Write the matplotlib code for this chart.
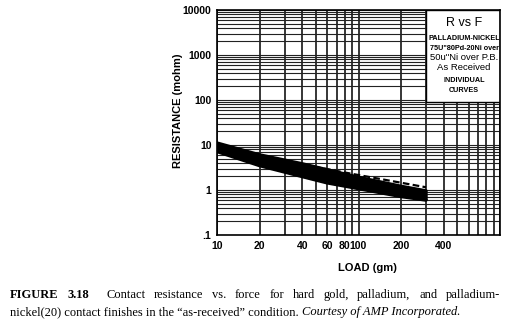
import matplotlib
matplotlib.use("Agg")
import matplotlib.pyplot as plt
from matplotlib.patches import Rectangle
from matplotlib.ticker import FixedLocator, NullFormatter

# Load points (gm) at which each curve is read
loads = [10, 20, 40, 60, 100, 200, 300]

# Individual resistance curves (mohm)
curve_1 = [11.0, 6.0, 3.8, 2.8, 1.9, 1.20, 0.95]
curve_2 = [10.3, 5.4, 3.4, 2.5, 1.70, 1.07, 0.86]
curve_3 = [9.5, 4.9, 3.0, 2.2, 1.52, 0.96, 0.77]
curve_4 = [8.7, 4.3, 2.6, 1.9, 1.34, 0.86, 0.70]
curve_5 = [7.8, 3.8, 2.3, 1.65, 1.20, 0.78, 0.63]
curve_6 = [7.2, 3.5, 2.0, 1.45, 1.08, 0.72, 0.60]
curve_dashed = [10.5, 5.7, 3.7, 2.9, 2.15, 1.45, 1.15]

x_tick_values = [10, 20, 40, 60, 80, 100, 200, 400]
x_tick_labels = ["10", "20", "40", "60", "80", "100", "200", "400"]
y_tick_values = [0.1, 1, 10, 100, 1000, 10000]
y_tick_labels = [".1", "1", "10", "100", "1000", "10000"]

legend_lines = ["PALLADIUM-NICKEL", "75U\"80Pd-20Ni over", "50u\"Ni over P.B.",
                "As Received"]

SANS = ["Liberation Sans", "DejaVu Sans"]
NARROW = ["Liberation Sans Narrow", "Liberation Sans", "DejaVu Sans"]
SERIF = ["Liberation Serif", "DejaVu Serif"]

W, H = 508, 328
fig = plt.figure(figsize=(W / 100, H / 100), dpi=100)
fig.patch.set_facecolor("white")
ax = fig.add_axes([217 / W, 1 - 235 / H, 283 / W, 225 / H])

ax.set_xscale("log")
ax.set_yscale("log")
ax.set_xlim(10, 1000)
ax.set_ylim(0.1, 10000)

# Grid: every unit within each decade in both directions
x_minor = [m * d for d in (10, 100) for m in range(1, 10)] + [1000]
y_minor = [m * d for d in (0.1, 1, 10, 100, 1000) for m in range(1, 10)] + [10000]
for xv in x_minor:
    ax.axvline(xv, color="black", lw=1.1, zorder=1)
for yv in y_minor:
    ax.axhline(yv, color="#222222", lw=0.8, zorder=1)

ax.xaxis.set_major_locator(FixedLocator(x_tick_values))
ax.xaxis.set_minor_locator(FixedLocator([]))
ax.set_xticklabels(x_tick_labels)
ax.yaxis.set_major_locator(FixedLocator(y_tick_values))
ax.yaxis.set_minor_locator(FixedLocator([]))
ax.yaxis.set_minor_formatter(NullFormatter())
ax.set_yticklabels(y_tick_labels)
ax.tick_params(axis="both", length=0, pad=4)
for lab in ax.get_xticklabels() + ax.get_yticklabels():
    lab.set_family(SANS)
    lab.set_fontweight("bold")
    lab.set_fontsize(7.5)

for sp in ax.spines.values():
    sp.set_color("black")
    sp.set_linewidth(1.2)
    sp.set_zorder(5)

# Curves
for c in (curve_1, curve_2, curve_3, curve_4, curve_5, curve_6):
    ax.plot(loads, c, color="black", lw=2.6, solid_capstyle="round", zorder=3)
ax.plot(loads, curve_dashed, color="black", lw=1.6, ls=(0, (3, 1.5)), zorder=3)

ax.set_xlabel("LOAD (gm)", family=SANS, fontweight="bold", fontsize=8, labelpad=5)
ax.xaxis.set_label_coords(0.53, -0.125)
ax.set_ylabel("RESISTANCE (mohm)", family=SANS, fontweight="bold", fontsize=8,
              labelpad=6)
ax.yaxis.set_label_coords(-0.12, 0.55)

# Legend box in the upper right corner
box = Rectangle((300, 90), 700, 10000 - 90, facecolor="white", edgecolor="black",
                lw=1.0, zorder=4)
ax.add_patch(box)
bx = (428 + 500) / 2 / W


def fy(py):
    return 1 - py / H


fig.text(bx, fy(23), "R vs F", ha="center", va="center", family=SANS,
         fontsize=9, zorder=6)
fig.text(bx, fy(39), legend_lines[0], ha="center", va="center", family=NARROW,
         fontsize=5.2, fontweight="bold", zorder=6)
fig.text(bx, fy(48), legend_lines[1], ha="center", va="center", family=NARROW,
         fontsize=5.2, fontweight="bold", zorder=6)
fig.text(bx, fy(58), legend_lines[2], ha="center", va="center", family=NARROW,
         fontsize=6.8, zorder=6)
fig.text(bx, fy(68), legend_lines[3], ha="center", va="center", family=NARROW,
         fontsize=6.8, zorder=6)
fig.text(bx, fy(81), "INDIVIDUAL", ha="center", va="center", family=NARROW,
         fontsize=5.2, fontweight="bold", zorder=6)
fig.text(bx, fy(91), "CURVES", ha="center", va="center", family=NARROW,
         fontsize=5.2, fontweight="bold", zorder=6)

# Caption below the chart
renderer = fig.canvas.get_renderer()


def width_px(t):
    return t.get_window_extent(renderer=renderer).width


cap_size = 9
line1 = [("FIGURE", "bold"), ("3.18", "bold"), ("Contact", "normal"),
         ("resistance", "normal"), ("vs.", "normal"), ("force", "normal"),
         ("for", "normal"), ("hard", "normal"), ("gold,", "normal"),
         ("palladium,", "normal"), ("and", "normal"), ("palladium-", "normal")]
x_left, x_right = 10, 500
texts = []
for word, weight in line1:
    t = fig.text(0, fy(295), word, ha="left", va="center", family=SERIF,
                 fontsize=cap_size, fontweight=weight)
    texts.append(t)
widths = [width_px(t) for t in texts]
# the gap after the figure number counts double
n_gaps = len(texts) - 1 + 1
gap = (x_right - x_left - sum(widths)) / n_gaps
x = x_left
for i, (t, w) in enumerate(zip(texts, widths)):
    t.set_x(x / W)
    x += w + gap * (2 if i == 1 else 1)

line2 = [("nickel(20) contact finishes in the \u201cas-received\u201d condition. ", "normal"),
         ("Courtesy of AMP Incorporated.", "italic")]
x = x_left
for txt, style in line2:
    t = fig.text(x / W, fy(312), txt, ha="left", va="center", family=SERIF,
                 fontsize=cap_size, fontstyle=style)
    x += width_px(t)

fig.savefig("out.png", dpi=100, facecolor="white")
